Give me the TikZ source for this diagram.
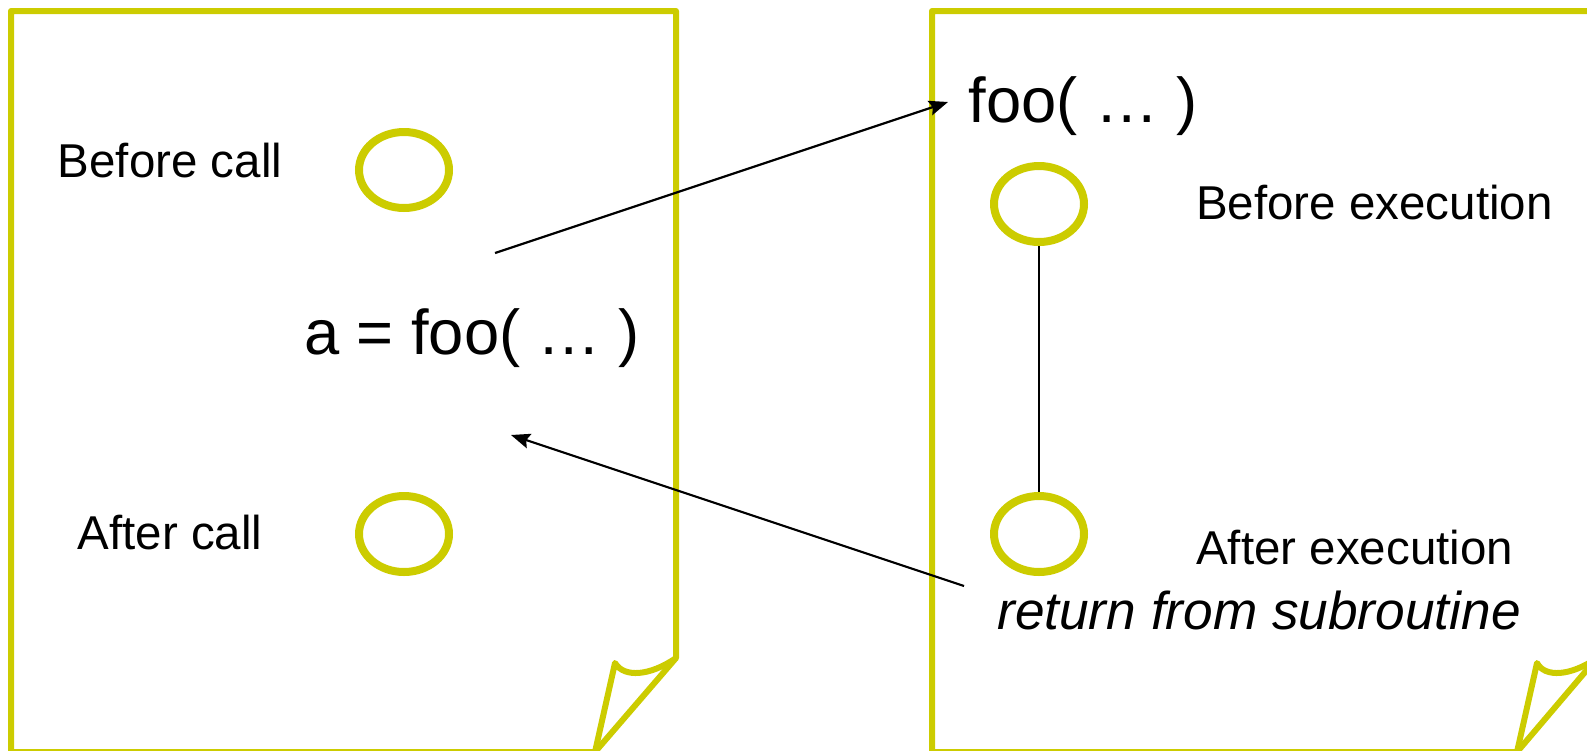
\documentclass[tikz,border=0pt]{standalone}
\usepackage{fontspec}
\setmainfont{Liberation Sans}
\usetikzlibrary{shapes.geometric,arrows.meta}
\definecolor{pageline}{RGB}{204,204,0}
\tikzset{
  page/.style={draw=pageline, line width=6pt, line join=round},
  slot/.style={ellipse, draw=pageline, line width=8pt, minimum width=90pt, minimum height=76pt, inner sep=0pt},
  lbl/.style={font=\fontsize{47.5}{57}\selectfont, inner sep=0pt},
  code/.style={font=\fontsize{63.3}{76}\selectfont, inner sep=0pt},
  link/.style={line width=2.2pt, -{Stealth[length=19pt,width=15pt,inset=3pt]}},
  plain/.style={line width=2pt}
}
\begin{document}
\begin{tikzpicture}[x=1pt,y=-1pt]
\useasboundingbox (0,0) rectangle (1587,750);
\clip (0,0) rectangle (1587,750);

% caller page with folded corner
\draw[page] (595,752) -- (11,752) -- (11,11) -- (676,11) -- (676,658) -- cycle;
\draw[page] (676,658) .. controls (650,676) and (624,678) .. (615,663) -- (595,752);

% subroutine page with folded corner
\draw[page] (1517,752) -- (932,752) -- (932,11) -- (1597,11) -- (1597,658) -- cycle;
\draw[page] (1597,658) .. controls (1571,676) and (1545,678) .. (1537,663) -- (1517,752);

% caller side
\node[lbl] (bc) at (170,161) {Before call};
\node[lbl] (ac) at (170,533) {After call};
\node[slot] (s1) at (404,170) {};
\node[slot] (s2) at (404,534) {};
\node[code] (call) at (472,338) {a = foo( … )};

% subroutine side
\node[code] (foo) at (1083,106) {foo( … )};
\node[slot] (s3) at (1039,204) {};
\node[slot] (s4) at (1039,534) {};
\node[lbl, anchor=west] (be) at (1196,203) {Before execution};
\node[lbl, anchor=west] (ae) at (1196,548) {After execution};
\node[lbl, font=\fontsize{53.2}{64}\selectfont\itshape] (ret) at (1259,610) {return from subroutine};

% control flow
\coordinate (callout) at (495,253);
\coordinate (entry) at (948,102);
\coordinate (exit) at (964,586);
\coordinate (back) at (511,435);
\draw[link] (callout) -- (entry);
\draw[link] (exit) -- (back);
\draw[plain] (s3.south) -- (s4.north);
\end{tikzpicture}
\end{document}
